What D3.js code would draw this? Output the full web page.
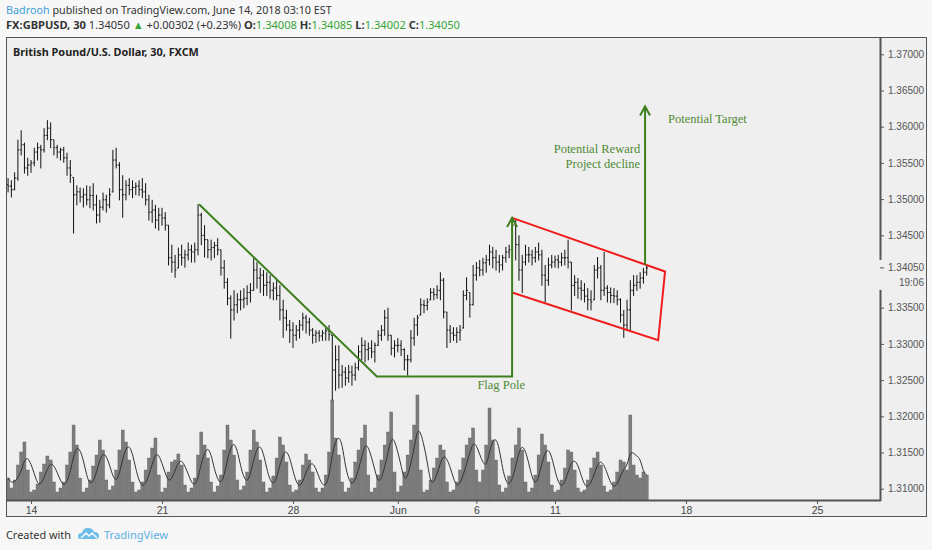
<!DOCTYPE html>
<html>
<head>
<meta charset="utf-8">
<script src="https://cdnjs.cloudflare.com/ajax/libs/d3/7.8.5/d3.min.js"></script>
<style>
  body { margin: 0; background: #f7f7f7; }
  svg { display: block; }
</style>
</head>
<body>
<div id="chart"></div>
<script>
// GBPUSD bars (one bar per 3 hours), first bar index = -7 (May 14 starts at 0)
const firstBar = -7;
const highs = [
  1.3529,1.3526,1.3537,1.3582,1.3595,1.3578,1.3557,
  1.3554,1.3571,1.3578,1.3575,1.3598,1.3609,1.3606,1.3582,
  1.3575,1.3571,1.3572,1.3564,1.3554,1.3530,1.3519,1.3516,
  1.3515,1.3519,1.3518,1.3522,1.3506,1.3499,1.3509,1.3506,
  1.3515,1.3568,1.3571,1.3551,1.3533,1.3526,1.3529,1.3526,
  1.3523,1.3526,1.3529,1.3522,1.3506,1.3499,1.3492,1.3488,
  1.3488,1.3482,1.3464,1.3437,1.3423,1.3433,1.3437,1.3430,
  1.3440,1.3437,1.3440,1.3493,1.3481,1.3464,1.3444,1.3444,
  1.3441,1.3446,1.3430,1.3416,1.3391,1.3367,1.3374,1.3370,
  1.3374,1.3377,1.3381,1.3384,1.3420,1.3413,1.3405,1.3402,
  1.3399,1.3395,1.3385,1.3388,1.3381,1.3361,1.3347,1.3333,
  1.3330,1.3326,1.3333,1.3343,1.3340,1.3336,1.3322,1.3319,
  1.3319,1.3319,1.3322,1.3326,1.3312,1.3298,1.3298,1.3271,
  1.3268,1.3271,1.3270,1.3274,1.3298,1.3309,1.3305,1.3302,
  1.3305,1.3302,1.3319,1.3326,1.3347,1.3350,1.3312,1.3305,
  1.3308,1.3305,1.3294,1.3285,1.3319,1.3336,1.3340,1.3363,
  1.3361,1.3363,1.3377,1.3377,1.3381,1.3399,1.3391,1.3344,
  1.3326,1.3323,1.3323,1.3326,1.3374,1.3392,1.3371,1.3409,
  1.3413,1.3416,1.3419,1.3423,1.3437,1.3434,1.3430,1.3423,
  1.3423,1.3434,1.3437,1.3474,1.3471,1.3450,1.3423,1.3437,
  1.3434,1.3430,1.3434,1.3440,1.3430,1.3409,1.3419,1.3423,
  1.3422,1.3423,1.3426,1.3430,1.3444,1.3413,1.3395,1.3391,
  1.3388,1.3384,1.3377,1.3374,1.3409,1.3420,1.3409,1.3427,
  1.3381,1.3378,1.3377,1.3374,1.3363,1.3347,1.3361,1.3388,
  1.3395,1.3395,1.3399,1.3405,1.3409
];
const lows = [
  1.3510,1.3503,1.3513,1.3526,1.3561,1.3536,1.3533,
  1.3537,1.3546,1.3554,1.3543,1.3565,1.3582,1.3571,1.3561,
  1.3557,1.3554,1.3551,1.3533,1.3523,1.3453,1.3492,1.3496,
  1.3489,1.3492,1.3488,1.3485,1.3467,1.3468,1.3485,1.3482,
  1.3488,1.3510,1.3543,1.3499,1.3475,1.3499,1.3506,1.3502,
  1.3506,1.3505,1.3502,1.3492,1.3471,1.3468,1.3460,1.3457,
  1.3464,1.3457,1.3409,1.3399,1.3392,1.3405,1.3409,1.3406,
  1.3416,1.3413,1.3413,1.3423,1.3437,1.3420,1.3419,1.3416,
  1.3419,1.3423,1.3395,1.3377,1.3354,1.3308,1.3333,1.3343,
  1.3347,1.3350,1.3354,1.3358,1.3374,1.3377,1.3371,1.3367,
  1.3367,1.3363,1.3361,1.3361,1.3333,1.3309,1.3319,1.3302,
  1.3295,1.3305,1.3308,1.3319,1.3315,1.3312,1.3301,1.3302,
  1.3304,1.3305,1.3305,1.3305,1.3223,1.3236,1.3239,1.3240,
  1.3243,1.3247,1.3243,1.3250,1.3264,1.3278,1.3275,1.3278,
  1.3281,1.3275,1.3298,1.3305,1.3312,1.3305,1.3285,1.3282,
  1.3289,1.3284,1.3264,1.3257,1.3275,1.3298,1.3312,1.3340,
  1.3343,1.3347,1.3361,1.3361,1.3363,1.3361,1.3336,1.3295,
  1.3302,1.3305,1.3302,1.3305,1.3322,1.3361,1.3337,1.3354,
  1.3388,1.3394,1.3395,1.3399,1.3409,1.3405,1.3402,1.3399,
  1.3402,1.3413,1.3419,1.3423,1.3416,1.3388,1.3371,1.3409,
  1.3413,1.3409,1.3413,1.3416,1.3381,1.3358,1.3381,1.3405,
  1.3406,1.3405,1.3408,1.3409,1.3405,1.3347,1.3367,1.3363,
  1.3361,1.3358,1.3347,1.3347,1.3361,1.3391,1.3361,1.3367,
  1.3358,1.3357,1.3357,1.3354,1.3330,1.3309,1.3319,1.3319,
  1.3367,1.3374,1.3377,1.3384,1.3395
];
const closes = [
  1.3518,1.3513,1.3529,1.3568,1.3575,1.3543,1.3547,
  1.3550,1.3565,1.3571,1.3568,1.3588,1.3598,1.3582,1.3571,
  1.3565,1.3568,1.3557,1.3543,1.3533,1.3506,1.3510,1.3503,
  1.3506,1.3499,1.3505,1.3492,1.3478,1.3489,1.3499,1.3492,
  1.3506,1.3554,1.3547,1.3513,1.3506,1.3519,1.3513,1.3516,
  1.3518,1.3513,1.3510,1.3499,1.3482,1.3485,1.3471,1.3478,
  1.3474,1.3464,1.3419,1.3413,1.3402,1.3423,1.3419,1.3423,
  1.3430,1.3427,1.3430,1.3478,1.3450,1.3444,1.3430,1.3433,
  1.3436,1.3430,1.3405,1.3385,1.3363,1.3347,1.3354,1.3361,
  1.3361,1.3363,1.3371,1.3374,1.3402,1.3391,1.3395,1.3381,
  1.3385,1.3374,1.3377,1.3367,1.3347,1.3336,1.3326,1.3319,
  1.3312,1.3319,1.3326,1.3336,1.3330,1.3319,1.3312,1.3315,
  1.3311,1.3315,1.3318,1.3313,1.3264,1.3278,1.3257,1.3261,
  1.3253,1.3261,1.3257,1.3267,1.3289,1.3298,1.3292,1.3294,
  1.3289,1.3298,1.3312,1.3319,1.3336,1.3312,1.3294,1.3298,
  1.3298,1.3292,1.3278,1.3278,1.3308,1.3326,1.3336,1.3354,
  1.3353,1.3358,1.3371,1.3368,1.3374,1.3388,1.3344,1.3319,
  1.3315,1.3312,1.3316,1.3319,1.3367,1.3374,1.3354,1.3395,
  1.3405,1.3402,1.3412,1.3416,1.3427,1.3419,1.3413,1.3409,
  1.3419,1.3427,1.3430,1.3464,1.3437,1.3402,1.3413,1.3423,
  1.3423,1.3419,1.3427,1.3423,1.3395,1.3388,1.3409,1.3413,
  1.3416,1.3413,1.3419,1.3419,1.3413,1.3381,1.3385,1.3377,
  1.3374,1.3366,1.3361,1.3358,1.3402,1.3405,1.3374,1.3377,
  1.3371,1.3367,1.3366,1.3361,1.3340,1.3326,1.3347,1.3374,
  1.3381,1.3385,1.3391,1.3399,1.3405
];
const firstOpen = 1.3520;
// volume per bar (arbitrary units)
const volumes = [
  22,12,20,35,48,58,30,
  8,10,16,28,36,44,40,18,
  8,12,18,35,48,75,55,22,
  8,12,20,34,45,60,50,20,
  10,14,30,50,70,58,40,18,
  8,10,18,30,42,52,62,25,
  8,12,28,38,40,46,35,15,
  8,12,22,45,68,55,42,18,
  8,14,25,50,75,60,45,20,
  10,14,28,50,70,58,40,18,
  8,12,24,42,63,55,38,15,
  8,10,20,35,46,40,28,12,
  8,12,25,48,100,62,45,18,
  8,12,22,38,50,62,75,25,
  8,12,25,40,55,68,88,28,
  8,14,28,45,60,75,105,30,
  8,10,20,32,42,55,50,18,
  8,10,18,30,42,55,62,72,
  30,18,30,55,92,60,40,15,
  8,12,24,42,55,72,50,18,
  8,12,25,45,66,55,38,15,
  8,10,20,32,50,48,30,12,
  8,10,20,32,42,48,35,14,
  8,10,18,28,40,38,30,85,
  35,25,22,28,25
];

const timeTicks = [0, 40, 80, 112, 136, 160, 200, 240];
const timeLabels = ["14", "21", "28", "Jun", "6", "11", "18", "25"];
const priceTicks = [1.31, 1.315, 1.32, 1.325, 1.33, 1.335, 1.345, 1.35, 1.355, 1.36, 1.365, 1.37];
const lastPrice = 1.3405;

// drawings: [bar index, price]
const trendLine = [[51.3, 1.3493], [105.6, 1.3255], [146.9, 1.3255], [146.9, 1.3474]];
const channelLine = [[146.9, 1.3474], [193.6, 1.3400], [191.5, 1.3305], [146.9, 1.3371]];
const targetLine = [[187.5, 1.3409], [187.5, 1.3628]];
const notes = [
  { text: "Flag Pole", at: [136.3, 1.3238], anchor: "start" },
  { text: "Potential Reward", at: [186.0, 1.3563], anchor: "end" },
  { text: "Project decline", at: [186.0, 1.3543], anchor: "end" },
  { text: "Potential Target", at: [194.5, 1.3605], anchor: "start" },
];

const width = 932, height = 550;
const frameLeft = 6, frameTop = 37, plotRight = 880, axisRight = 927, plotBottom = 500, axisBottom = 517;

const svg = d3.select("#chart").append("svg")
  .attr("width", width).attr("height", height)
  .style("font-family", "'Noto Sans', 'Open Sans', sans-serif");

svg.append("rect").attr("width", width).attr("height", height).attr("fill", "#f7f7f7");

// chart frame background
svg.append("rect")
  .attr("x", frameLeft).attr("y", frameTop)
  .attr("width", axisRight - frameLeft).attr("height", axisBottom - frameTop)
  .attr("fill", "#efefef");

const x = d3.scaleLinear().domain([0, 240]).range([31, 817]);
const y = d3.scaleLinear().domain([1.31, 1.37]).range([488.7, 54.3]);
const yVol = d3.scaleLinear().domain([0, 110]).range([plotBottom, plotBottom - 110]);

const bars = closes.map((c, k) => {
  const prev = k === 0 ? firstOpen : closes[k - 1];
  const o = Math.min(highs[k], Math.max(lows[k], prev));
  return { i: firstBar + k, o: o, h: highs[k], l: lows[k], c: c, v: volumes[k] };
});

svg.append("clipPath").attr("id", "plot")
  .append("rect").attr("x", frameLeft).attr("y", frameTop)
  .attr("width", plotRight - frameLeft).attr("height", plotBottom - frameTop);

const plot = svg.append("g").attr("clip-path", "url(#plot)");

// volume
plot.append("g")
  .selectAll("rect")
  .data(bars)
  .join("rect")
  .attr("x", (d) => x(d.i) - 1.5)
  .attr("width", 3)
  .attr("y", (d) => yVol(d.v))
  .attr("height", (d) => plotBottom - yVol(d.v))
  .attr("fill", "#7c7c7c")
  .attr("stroke", "#5e5e5e")
  .attr("stroke-width", 0.4);

// volume moving average (4 bars)
const ma = bars.map((d, k) => {
  const w = bars.slice(Math.max(0, k - 3), k + 1);
  return { i: d.i, v: d3.mean(w, (e) => e.v) };
});
plot.append("path")
  .datum(ma)
  .attr("fill", "none")
  .attr("stroke", "#333")
  .attr("stroke-width", 1)
  .attr("d", d3.line().x((d) => x(d.i)).y((d) => yVol(d.v)).curve(d3.curveBasis));

// OHLC bars
const ohlc = plot.append("g").attr("stroke", "#111").attr("stroke-width", 1);
ohlc.selectAll("line.hl")
  .data(bars)
  .join("line")
  .attr("class", "hl")
  .attr("x1", (d) => x(d.i)).attr("x2", (d) => x(d.i))
  .attr("y1", (d) => y(d.h)).attr("y2", (d) => y(d.l) + 0.5);
ohlc.selectAll("line.op")
  .data(bars)
  .join("line")
  .attr("class", "op")
  .attr("x1", (d) => x(d.i) - 1.3).attr("x2", (d) => x(d.i))
  .attr("y1", (d) => y(d.o)).attr("y2", (d) => y(d.o));
ohlc.selectAll("line.cl")
  .data(bars)
  .join("line")
  .attr("class", "cl")
  .attr("x1", (d) => x(d.i)).attr("x2", (d) => x(d.i) + 1.3)
  .attr("y1", (d) => y(d.c)).attr("y2", (d) => y(d.c));

// drawings
const line = d3.line().x((d) => x(d[0])).y((d) => y(d[1]));
const green = "#3e7f1d";

plot.append("path").datum(channelLine)
  .attr("fill", "none").attr("stroke", "#f01c1c").attr("stroke-width", 2)
  .attr("d", line);

plot.append("path").datum(trendLine)
  .attr("fill", "none").attr("stroke", green).attr("stroke-width", 2)
  .attr("stroke-linejoin", "miter")
  .attr("d", line);

plot.append("path").datum(targetLine)
  .attr("fill", "none").attr("stroke", green).attr("stroke-width", 2)
  .attr("d", line);

// arrow heads at the tips of the flag pole and the target
[trendLine[trendLine.length - 1], targetLine[1]].forEach((p) => {
  const px = x(p[0]), py = y(p[1]);
  plot.append("path")
    .attr("d", `M${px - 5},${py + 9}L${px},${py}L${px + 5},${py + 9}`)
    .attr("fill", "none").attr("stroke", green).attr("stroke-width", 2);
});

plot.append("g")
  .selectAll("text")
  .data(notes)
  .join("text")
  .attr("x", (d) => x(d.at[0]))
  .attr("y", (d) => y(d.at[1]))
  .attr("text-anchor", (d) => d.anchor)
  .attr("fill", "#4f8a35")
  .style("font-family", "'Liberation Serif', serif")
  .style("font-size", "12.5px")
  .text((d) => d.text);

// frame lines
const frame = svg.append("g").attr("stroke", "#555").attr("fill", "none");
frame.append("rect")
  .attr("x", frameLeft + 0.5).attr("y", frameTop + 0.5)
  .attr("width", axisRight - frameLeft - 1).attr("height", axisBottom - frameTop - 1)
  .attr("stroke-width", 1);
frame.append("line")
  .attr("x1", frameLeft).attr("x2", plotRight + 1)
  .attr("y1", plotBottom + 0.5).attr("y2", plotBottom + 0.5)
  .attr("stroke-width", 2);
frame.append("line")
  .attr("x1", plotRight + 0.5).attr("x2", plotRight + 0.5)
  .attr("y1", frameTop).attr("y2", plotBottom + 1)
  .attr("stroke-width", 2);

// price axis
const yAxis = svg.append("g")
  .attr("transform", `translate(${plotRight + 1},0)`)
  .call(d3.axisRight(y).tickValues(priceTicks).tickSize(3).tickPadding(4).tickFormat(d3.format(".5f")));
yAxis.select(".domain").remove();
yAxis.selectAll("line").attr("stroke", "#555");
yAxis.selectAll("text").attr("fill", "#555").style("font-family", "'Liberation Sans', Arial, sans-serif").style("font-size", "10px");

// last price label
const lp = svg.append("g").attr("transform", `translate(${plotRight},${y(lastPrice)})`);
lp.append("rect").attr("x", -1).attr("y", -8).attr("width", axisRight - plotRight).attr("height", 30).attr("fill", "#efefef");
lp.append("line").attr("x1", 0).attr("x2", 4).attr("y1", 0).attr("y2", 0).attr("stroke", "#555");
lp.append("text").attr("x", 8).attr("y", 3.5).attr("fill", "#555")
  .style("font-family", "'Liberation Sans', Arial, sans-serif").style("font-size", "10px")
  .text(d3.format(".5f")(lastPrice));
lp.append("text").attr("x", 44).attr("y", 18).attr("text-anchor", "end").attr("fill", "#555")
  .style("font-family", "'Liberation Sans', Arial, sans-serif").style("font-size", "10px")
  .text("19:06");

// time axis
const xAxis = svg.append("g")
  .attr("transform", `translate(0,${plotBottom + 1})`)
  .call(d3.axisBottom(x).tickValues(timeTicks).tickSize(3).tickPadding(3).tickFormat((d, k) => timeLabels[k]));
xAxis.select(".domain").remove();
xAxis.selectAll("line").attr("stroke", "#555");
xAxis.selectAll("text").attr("fill", "#444").style("font-family", "'Liberation Sans', Arial, sans-serif").style("font-size", "10.5px");

// shrink a text's font size until it spans the wanted width
function fitWidth(sel, wanted) {
  const size = parseFloat(sel.style("font-size"));
  const len = sel.node().getComputedTextLength();
  if (len > wanted) sel.style("font-size", (size * wanted / len).toFixed(2) + "px");
}

// header
const h1 = svg.append("text").attr("x", 6).attr("y", 14)
  .style("font-size", "12.5px").attr("fill", "#333");
h1.append("tspan").attr("fill", "#3d9fd9").text("Badrooh");
h1.append("tspan").text(" published on TradingView.com, June 14, 2018 03:10 EST");
fitWidth(h1, 326);

const up = "#35a635";
const h2 = svg.append("text").attr("x", 6).attr("y", 29)
  .style("font-size", "12.5px").attr("fill", "#333");
[
  ["FX:GBPUSD, 30", "bold", "#333"],
  [" 1.34050 ", "normal", "#333"],
  ["▲", "normal", up],
  [" +0.00302 (+0.23%) ", "normal", "#333"],
  ["O:", "bold", "#333"], ["1.34008", "normal", up],
  [" H:", "bold", "#333"], ["1.34085", "normal", up],
  [" L:", "bold", "#333"], ["1.34002", "normal", up],
  [" C:", "bold", "#333"], ["1.34050", "normal", up],
].forEach(([t, w, c]) => {
  h2.append("tspan").attr("font-weight", w).attr("fill", c).text(t);
});
fitWidth(h2, 454);

const title = svg.append("text").attr("x", 13).attr("y", 56)
  .style("font-size", "12.5px").attr("font-weight", "bold").attr("fill", "#222")
  .text("British Pound/U.S. Dollar, 30, FXCM");
fitWidth(title, 186);

// footer
const created = svg.append("text").attr("x", 6).attr("y", 539)
  .style("font-size", "12.5px").attr("fill", "#333")
  .text("Created with");
fitWidth(created, 65);

const logo = svg.append("g").attr("transform", "translate(78,527)");
logo.append("path")
  .attr("d", "M2,12 Q0,12 0,9 Q0,6 4,6 Q5,1 10,1 Q15,1 16,5 Q21,5 21,9 Q21,12 18,12 Z")
  .attr("fill", "#6bbde8");
logo.append("path")
  .attr("d", "M3,11 L8,6 L11,9 L14,6 L19,11")
  .attr("fill", "none").attr("stroke", "#f7f7f7").attr("stroke-width", 1.5);

const tv = svg.append("text").attr("x", 104).attr("y", 539)
  .style("font-size", "12.5px").attr("fill", "#5aaee0")
  .text("TradingView");
fitWidth(tv, 64);
</script>
</body>
</html>
